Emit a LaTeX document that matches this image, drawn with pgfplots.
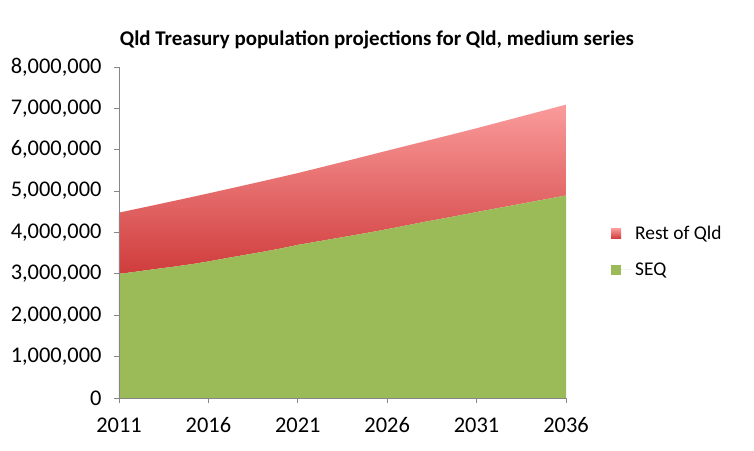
\documentclass[border=0pt]{standalone}
\usepackage{pgfplots}
\pgfplotsset{compat=1.18}
\usepackage{fontspec}
\setmainfont{Carlito}
\usetikzlibrary{calc}
\definecolor{seqgreen}{RGB}{155,187,89}
\definecolor{restlight}{RGB}{250,155,155}
\definecolor{restdark}{RGB}{208,60,60}
\definecolor{axgray}{RGB}{134,134,134}

\begin{document}
\begin{tikzpicture}
\begin{axis}[
  name=ax, at={(0,0)}, anchor=south west,
  scale only axis, width=447bp, height=331bp,
  xmin=2011, xmax=2036, ymin=0, ymax=8000000,
  xtick={2011,2016,...,2036},
  ytick={0,1000000,...,8000000},
  axis lines*=left,
  axis line style={axgray, line width=1pt},
  tick style={axgray, line width=1pt},
  tick align=outside, major tick length=5bp,
  x tick label style={/pgf/number format/1000 sep={}, yshift=-11bp},
  y tick label style={/pgf/number format/.cd, fixed, 1000 sep={,}, /tikz/xshift=-9bp},
  scaled y ticks=false,
  /pgf/number format/assume math mode=true,
  tick label style={font=\fontsize{22.5}{22.5}\selectfont},
  axis on top,
  stack plots=y,
  reverse legend,
  legend cell align=left,
  legend style={at={(1.094,0.4426)}, anchor=west, draw=none, fill=none,
    font=\fontsize{19.5}{19.5}\selectfont, row sep=18bp},
  legend image code/.code={\path[#1] (0bp,-5bp) rectangle (10bp,5bp);
    \path (0bp,0bp) -- (22bp,0bp);},
]
% SEQ
\addplot[draw=none, fill=seqgreen] coordinates {
  (2011,3000000) (2012,3055000) (2013,3115000) (2014,3170000) (2015,3230000)
  (2016,3300000) (2017,3380000) (2018,3455000) (2019,3530000) (2020,3610000)
  (2021,3700000) (2022,3775000) (2023,3850000) (2024,3925000) (2025,4000000)
  (2026,4080000) (2027,4165000) (2028,4250000) (2029,4330000) (2030,4410000)
  (2031,4495000) (2032,4575000) (2033,4655000) (2034,4735000) (2035,4815000)
  (2036,4895000)
} \closedcycle;
\addlegendentry{SEQ}
% Rest of Qld
\addplot[draw=none, top color=restlight, bottom color=restdark] coordinates {
  (2011,1480000) (2012,1517000) (2013,1549000) (2014,1587000) (2015,1620000)
  (2016,1645000) (2017,1662000) (2018,1684000) (2019,1707000) (2020,1726000)
  (2021,1736000) (2022,1768000) (2023,1801000) (2024,1834000) (2025,1868000)
  (2026,1898000) (2027,1921000) (2028,1944000) (2029,1972000) (2030,2000000)
  (2031,2025000) (2032,2059000) (2033,2093000) (2034,2127000) (2035,2161000)
  (2036,2195000)
} \closedcycle;
\addlegendentry{Rest of Qld}
\end{axis}
\node[font=\bfseries\fontsize{21}{21}\selectfont] at ($(ax.south west)+(258bp,358bp)$)
  {Qld Treasury population projections for Qld, medium series};
\useasboundingbox ($(ax.south west)+(-119bp,-53bp)$) rectangle ++(754bp,451bp);
\end{tikzpicture}
\end{document}
